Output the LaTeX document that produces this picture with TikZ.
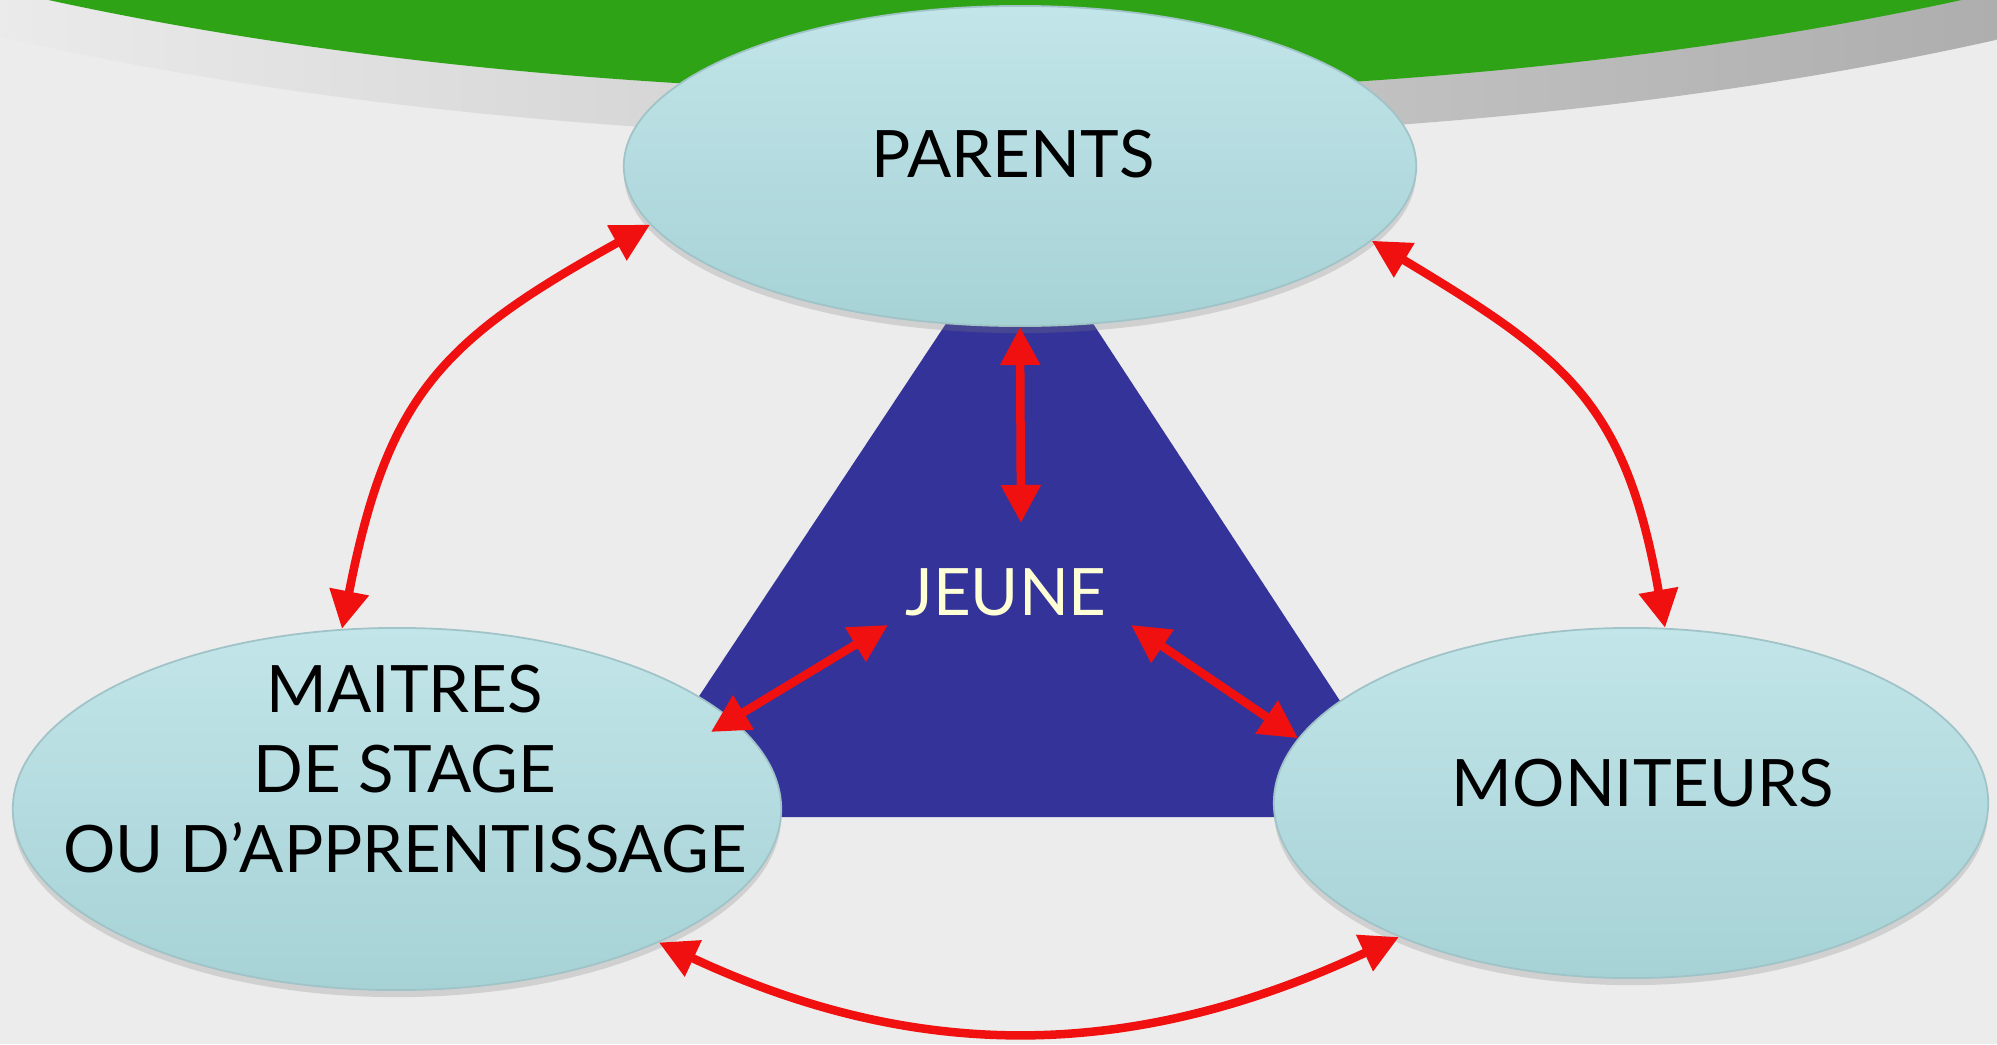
\documentclass[tikz,border=0pt]{standalone}
\usepackage{fontspec}
\setmainfont{Lato}
\usetikzlibrary{shapes.geometric,arrows.meta,shadows}
\definecolor{bgray}{RGB}{236,236,236}
\definecolor{topgreen}{RGB}{46,163,22}
\definecolor{jblue}{RGB}{51,51,153}
\definecolor{bubtop}{RGB}{194,229,233}
\definecolor{bubbot}{RGB}{166,210,214}
\definecolor{bubline}{RGB}{160,195,200}
\definecolor{linkred}{RGB}{240,16,16}
\definecolor{jcream}{RGB}{255,255,214}
\tikzset{
  bubble/.style={ellipse, top color=bubtop, bottom color=bubbot, draw=bubline, line width=0.5pt,
    inner sep=0pt, drop shadow={opacity=0.25, shadow xshift=0pt, shadow yshift=-2pt}},
  lbl/.style={font=\fontsize{18.6}{22.8}\selectfont, align=center, inner sep=0pt},
  link/.style={linkred, line width=0.085cm,
    {Triangle[length=0.38cm,width=0.38cm]}-{Triangle[length=0.38cm,width=0.38cm]}},
}
\begin{document}
\begin{tikzpicture}[x=0.01cm,y=0.01cm]
  \useasboundingbox (0,0) rectangle (1997,1044);
  \clip (0,0) rectangle (1997,1044);
  \fill[bgray] (0,0) rectangle (1997,1044);

  % bandeau du haut
  \shade[left color=white, right color=black!40] (1005,1420) ellipse [x radius=1680, y radius=515];
  \fill[topgreen] (1005,1444) ellipse [x radius=1636, y radius=493];

  % triangle du jeune
  \fill[jblue] (1020,832) -- (1416,227) -- (619,227) -- cycle;

  \node[bubble, minimum width=7.92cm, minimum height=3.2cm] (parents) at (1020,878) {};
  \node[bubble, minimum width=7.68cm, minimum height=3.62cm] (maitres) at (397,235) {};
  \node[bubble, minimum width=7.14cm, minimum height=3.5cm] (moniteurs) at (1631,241) {};

  \node[lbl] (parentstxt) at (1013,890) {PARENTS};
  \node[lbl] (maitrestxt) at (405,275) {MAITRES\\DE STAGE\\OU D’APPRENTISSAGE};
  \node[lbl] (moniteurstxt) at (1643,261) {MONITEURS};
  \node[lbl, text=jcream] (jeune) at (1006,452) {JEUNE};

  \coordinate (jtop) at (1021,521);
  \coordinate (jleft) at (888,419);
  \coordinate (jright) at (1131,419);

  % liens
  \draw[link] (maitres.107) to[out=79,in=209,looseness=1.2] (parents.189);
  \draw[link] (parents.348) to[out=-31,in=100,looseness=1.2] (moniteurs.79);
  \draw[link] (maitres.333) to[out=-25,in=205] (moniteurs.210);
  \draw[link] (parents.270) -- (jtop);
  \draw[link, shorten >=-7pt] (jleft) -- (maitres.15);
  \draw[link] (jright) -- (moniteurs.169);
\end{tikzpicture}
\end{document}
